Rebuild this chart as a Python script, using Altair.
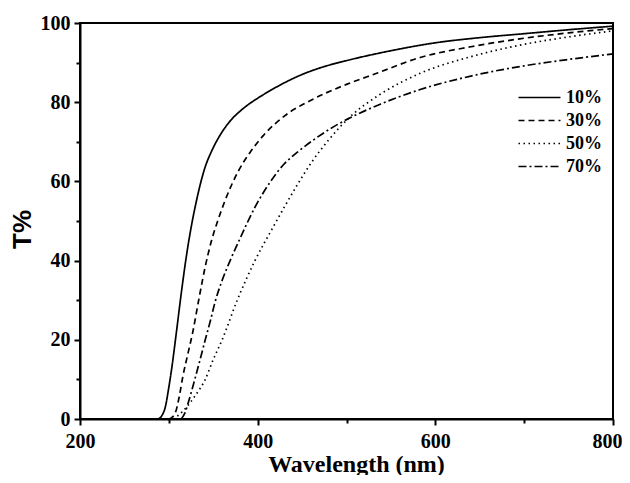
import altair as alt
import pandas as pd

series = ["10%", "30%", "50%", "70%"]

wl_10 = [288, 292, 296, 300, 304, 308, 313, 319, 324, 331, 340, 350, 360, 370, 380, 390, 400, 425, 450, 475, 500, 550, 600, 650, 700, 750, 800]
t_10 = [0, 0.8, 3, 8, 14, 21, 30, 40, 47, 55, 63, 68.5, 72.5, 75.5, 77.7, 79.5, 81, 84.3, 87, 89, 90.5, 93, 95, 96.3, 97.3, 98.3, 99.2]

wl_30 = [300, 304, 308, 312, 316, 322, 327, 334, 341, 348, 355, 363, 378, 392, 406, 430, 460, 500, 534, 583, 640, 695, 750, 800]
t_30 = [0, 0.5, 2, 6, 11, 17, 22, 30.5, 38.5, 45, 50, 55, 62.5, 67.5, 71.5, 76.5, 80.5, 84.5, 87.3, 91.3, 94, 96, 97.5, 98.6]

wl_50 = [305, 310, 320, 330, 341, 350, 360, 377, 397, 417, 431, 444, 460, 480, 504, 538, 583, 640, 695, 750, 800]
t_50 = [0, 0.8, 3, 6, 10, 15, 20, 30, 40, 48.3, 53.9, 58.9, 64.6, 70.5, 76.3, 82, 87.3, 91.5, 94.4, 96.5, 98]

wl_70 = [314, 318, 323, 328, 334, 341, 347, 352, 360, 369, 380, 397, 414, 429, 446, 463, 481, 500, 538, 583, 640, 695, 750, 800]
t_70 = [0, 1.5, 5, 9, 14, 20, 25, 29.5, 35, 40, 45.5, 53.5, 59.8, 64.2, 67.6, 70.5, 73.2, 75.6, 79.5, 83.2, 86.6, 89, 90.8, 92.2]

x_ticks = [200, 300, 400, 500, 600, 700, 800]
y_ticks = [0, 10, 20, 30, 40, 50, 60, 70, 80, 90, 100]
dash_patterns = [[1, 0], [6, 4], [1.5, 3.5], [8, 3, 2, 3]]

rows = []
for name, wl, t in zip(series, [wl_10, wl_30, wl_50, wl_70], [t_10, t_30, t_50, t_70]):
    for a, b in zip(wl, t):
        rows.append({"series": name, "wavelength": a, "T": b})
df = pd.DataFrame(rows)

serif = "Liberation Serif"

x_axis = alt.Axis(
    title="Wavelength (nm)",
    values=x_ticks,
    format="d",
    labelExpr="datum.value % 200 === 0 ? datum.label : ''",
    labelFont=serif, labelFontWeight="bold", labelFontSize=20, labelColor="black",
    labelPadding=6,
    labelOffset={"condition": {"test": "datum.value === 800", "value": -6}, "value": 0},
    tickColor="black", tickWidth=2,
    tickSize={"condition": {"test": "datum.value % 200 === 0", "value": 6}, "value": 4},
    domainColor="black", domainWidth=2,
    grid=False, labelFlush=False,
    titleFont=serif, titleFontWeight="bold", titleFontSize=24, titleColor="black",
    titleX=276, titleY=52, titleAlign="center", titleBaseline="alphabetic",
)

y_axis = alt.Axis(
    title="T%",
    values=y_ticks,
    format="d",
    labelExpr="datum.value % 20 === 0 ? datum.label : ''",
    labelFont=serif, labelFontWeight="bold", labelFontSize=20, labelColor="black",
    labelPadding=4,
    tickColor="black", tickWidth=2,
    tickSize={"condition": {"test": "datum.value % 20 === 0", "value": 6}, "value": 4},
    domainColor="black", domainWidth=2,
    grid=False, labelFlush=False,
    titleFont="Liberation Sans", titleFontWeight="bold", titleFontSize=26, titleColor="black",
    titleX=-58, titleY=206, titleAngle=270, titleAlign="center", titleBaseline="middle",
)

legend = alt.Legend(
    title=None, orient="none", legendX=448, legendY=63, direction="vertical",
    symbolType="M-2,0H2", symbolSize=441, symbolStrokeWidth=1.7,
    symbolStrokeColor="black", symbolFillColor="transparent",
    labelFont=serif, labelFontWeight="bold", labelFontSize=18, labelColor="black",
    labelOffset=15, rowPadding=2, padding=0,
)

chart = alt.Chart(df).mark_line(color="black", strokeWidth=1.7, interpolate="monotone").encode(
    x=alt.X("wavelength:Q", scale=alt.Scale(domain=[200, 800], nice=False, zero=False), axis=x_axis),
    y=alt.Y("T:Q", scale=alt.Scale(domain=[0, 100], nice=False), axis=y_axis),
    strokeDash=alt.StrokeDash("series:N", scale=alt.Scale(domain=series, range=dash_patterns), legend=legend),
    order=alt.Order("wavelength:Q"),
).properties(
    width=533, height=396,
    autosize=alt.AutoSizeParams(type="none"),
    padding={"left": 72, "top": 15, "right": 9, "bottom": 56},
).configure_view(stroke="black", strokeWidth=2)

chart.save("out.html", embed_options={"renderer": "svg", "actions": False})
